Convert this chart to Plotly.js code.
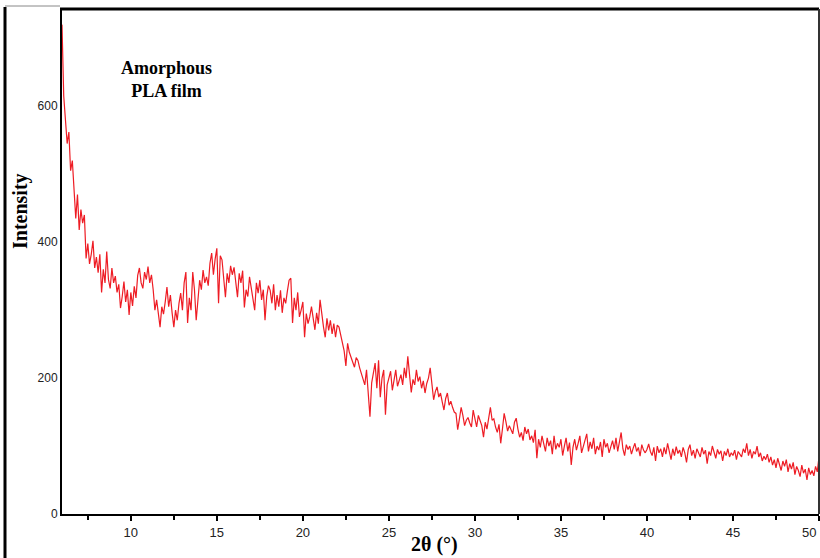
<!DOCTYPE html>
<html>
<head>
<meta charset="utf-8">
<script src="https://cdn.plot.ly/plotly-3.0.1.min.js"></script>
<style>html,body{margin:0;padding:0;background:#fff;}#chart{width:820px;height:558px;}</style>
</head>
<body>
<div id="chart"></div>
<script>
// 2θ grid: start and step (degrees)
const thetaStart = 6.0;
const thetaStep = 0.1;
// Intensity, 6.0° to 50.0° in 0.1° steps
const intensity = [
  720,615,580,545,562,505,520,478,435,470,
  418,448,428,440,376,398,368,382,402,362,
  378,355,382,326,360,340,386,345,332,362,
  340,350,326,338,303,320,342,312,330,293,
  326,306,335,318,351,362,340,332,356,345,
  364,340,352,330,300,315,290,275,305,294,
  312,334,305,322,296,275,300,285,310,325,
  300,340,356,281,318,300,356,330,285,320,
  344,330,359,340,349,336,369,384,352,375,
  391,310,380,374,345,319,354,340,365,352,
  363,338,319,354,340,358,304,330,320,349,
  332,315,300,340,325,344,315,330,285,320,
  336,329,310,338,300,322,305,329,296,318,
  310,328,344,347,281,318,300,326,290,300,
  312,260,295,280,290,305,285,271,296,280,
  315,290,275,260,288,270,285,265,280,260,
  278,275,262,251,240,218,251,238,231,225,
  216,230,226,215,207,200,190,212,180,143,
  193,205,222,185,226,172,200,212,146,190,
  201,210,182,196,212,188,197,205,190,215,
  200,232,205,179,198,190,212,195,202,185,
  196,178,192,200,215,185,168,180,187,172,
  178,165,153,170,178,160,166,157,150,148,
  124,140,157,145,130,138,142,134,128,153,
  140,128,145,138,130,113,135,125,145,157,
  138,140,128,120,132,104,125,148,136,122,
  130,124,118,135,141,125,113,120,108,128,
  118,125,109,115,105,124,82,110,98,115,
  105,92,112,100,108,88,115,95,104,98,
  110,86,100,112,92,105,72,98,110,94,
  104,115,90,100,108,118,92,106,96,112,
  88,100,94,106,84,110,98,104,90,100,
  108,95,112,92,104,120,96,86,102,95,
  100,88,97,104,92,98,85,102,94,90,
  95,103,92,86,98,78,100,90,96,84,
  98,88,104,92,80,96,86,99,89,94,
  84,98,90,76,95,102,86,94,82,96,
  90,84,98,88,94,74,92,86,100,90,
  82,95,88,93,78,92,86,96,84,90,
  86,94,80,92,88,84,96,90,104,86,
  95,82,92,88,100,84,90,78,85,80,
  88,76,84,72,80,68,82,74,64,78,
  70,80,62,74,66,76,58,70,64,55,
  72,60,66,50,68,58,64,56,70,62,
  84
];
const xTickVals = [10, 15, 20, 25, 30, 35, 40, 45];
const xTickText = ['10', '15', '20', '25', '30', '35', '40', '45'];
const xEdgeTick = 50;
const xEdgeText = '50';
const yTickVals = [0, 200, 400, 600];
const yTickText = ['0', '200', '400', '600'];

const tickFont = {family: 'Liberation Sans Narrow, Liberation Sans, Arial, sans-serif', size: 13, color: '#222'};
const serifBold = {family: 'Liberation Serif, Times New Roman, serif', size: 20, color: '#000'};

const trace = {
  type: 'scatter', mode: 'lines',
  x0: thetaStart, dx: thetaStep, y: intensity,
  line: {color: '#ee1c24', width: 1.2},
  hoverinfo: 'skip'
};

const plotLeft = 62, plotW = 757, plotBottom = 514, plotH = 505;
const px = v => (v - plotLeft) / plotW;
const py = v => (plotBottom - v) / plotH;

const layout = {
  width: 820, height: 558,
  margin: {l: 62, r: 1, t: 9, b: 44},
  paper_bgcolor: '#fff', plot_bgcolor: '#fff',
  showlegend: false,
  xaxis: {
    range: [6, 50], tickmode: 'array', tickvals: xTickVals.concat([xEdgeTick]), ticktext: xTickText.concat(['']),
    ticks: 'outside', ticklen: 5, tickwidth: 1.5, tickcolor: '#000',
    minor: {tickmode: 'linear', tick0: 7.5, dtick: 5, ticks: 'outside', ticklen: 4, tickwidth: 1.5, tickcolor: '#000'},
    showgrid: false, zeroline: false,
    showline: true, linecolor: '#000', linewidth: 2,
    tickfont: tickFont
  },
  yaxis: {
    range: [0, 743], tickmode: 'array', tickvals: yTickVals, ticktext: yTickText,
    ticks: '', showgrid: false, zeroline: false,
    showline: true, linecolor: '#000', linewidth: 2,
    tickfont: Object.assign({}, tickFont, {size: 12})
  },
  shapes: [
    {type: 'line', xref: 'paper', yref: 'paper', x0: px(60), x1: 1, y0: 1, y1: 1, line: {color: '#000', width: 3}},
    {type: 'line', xref: 'paper', yref: 'paper', x0: 1, x1: 1, y0: 0, y1: 1, line: {color: '#333', width: 2}},
    {type: 'line', xref: 'paper', yref: 'paper', x0: px(5), x1: px(5), y0: py(7), y1: py(560), line: {color: '#000', width: 3}},
    {type: 'line', xref: 'paper', yref: 'paper', x0: px(5), x1: px(60), y0: py(6), y1: py(6), line: {color: '#888', width: 1}}
  ],
  annotations: [
    {text: '<b>Amorphous<br>PLA film</b>', xref: 'paper', yref: 'paper', x: px(166), y: py(79),
     xanchor: 'center', yanchor: 'middle', showarrow: false, font: Object.assign({}, serifBold, {size: 18}), align: 'center'},
    {text: '<b>2θ (°)</b>', xref: 'paper', yref: 'paper', x: px(434), y: py(544),
     xanchor: 'center', yanchor: 'middle', showarrow: false, font: serifBold},
    {text: '<b>Intensity</b>', xref: 'paper', yref: 'paper', x: px(20), y: py(211),
     xanchor: 'center', yanchor: 'middle', showarrow: false, textangle: -90, font: serifBold},
    {text: xEdgeText, xref: 'paper', yref: 'paper', x: px(818), y: py(532),
     xanchor: 'right', yanchor: 'middle', showarrow: false, font: tickFont}
  ]
};

Plotly.newPlot('chart', [trace], layout, {staticPlot: true, displayModeBar: false});
</script>
</body>
</html>
